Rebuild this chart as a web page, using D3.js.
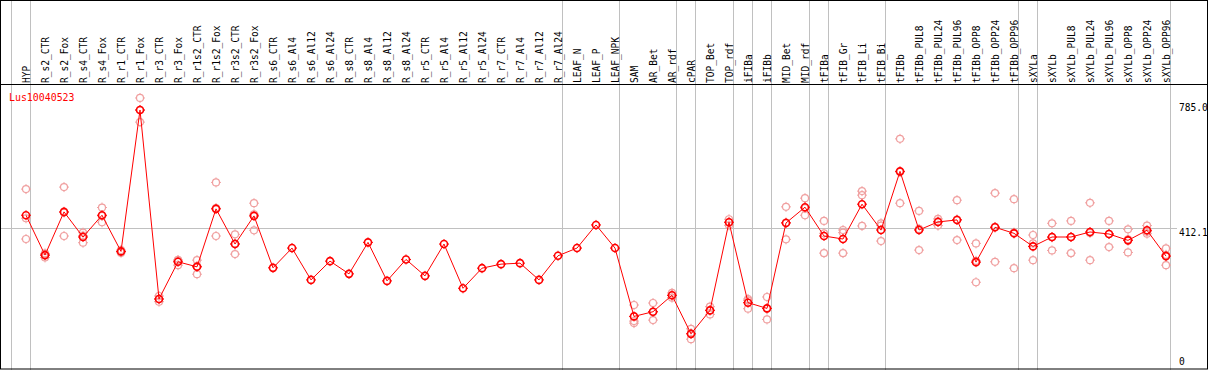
<!DOCTYPE html>
<html>
<head>
<meta charset="utf-8">
<script src="https://cdn.jsdelivr.net/npm/d3@7"></script>
<style>
  body { margin: 0; background: #fff; }
  svg { display: block; }
  text { font-family: "DejaVu Sans Mono", monospace; font-size: 11px; }
</style>
</head>
<body>
<div id="chart"></div>
<script>
var categories = ['HYP', 'R_s2_CTR', 'R_s2_Fox', 'R_s4_CTR', 'R_s4_Fox', 'R_r1_CTR', 'R_r1_Fox',
  'R_r3_CTR', 'R_r3_Fox', 'R_r1s2_CTR', 'R_r1s2_Fox', 'R_r3s2_CTR', 'R_r3s2_Fox',
  'R_s6_CTR', 'R_s6_Al4', 'R_s6_Al12', 'R_s6_Al24', 'R_s8_CTR', 'R_s8_Al4', 'R_s8_Al12', 'R_s8_Al24',
  'R_r5_CTR', 'R_r5_Al4', 'R_r5_Al12', 'R_r5_Al24', 'R_r7_CTR', 'R_r7_Al4', 'R_r7_Al12', 'R_r7_Al24',
  'LEAF_N', 'LEAF_P', 'LEAF_NPK', 'SAM', 'AR_Bet', 'AR_rdf', 'cPAR', 'TOP_Bet', 'TOP_rdf',
  'iFIBa', 'iFIBb', 'MID_Bet', 'MID_rdf', 'tFIBa', 'tFIB_Gr', 'tFIB_Li', 'tFIB_Bi', 'tFIBb',
  'tFIBb_PUL8', 'tFIBb_PUL24', 'tFIBb_PUL96', 'tFIBb_OPP8', 'tFIBb_OPP24', 'tFIBb_OPP96',
  'sXYLa', 'sXYLb', 'sXYLb_PUL8', 'sXYLb_PUL24', 'sXYLb_PUL96', 'sXYLb_OPP8', 'sXYLb_OPP24', 'sXYLb_OPP96'];

// mean expression per sample
var meanValues = [450, 331, 460, 385, 450, 342, 764,
  200, 311, 296, 469, 364, 448,
  293, 352, 257, 313, 275, 369, 254, 318,
  269, 364, 232, 292, 304, 307, 257, 329,
  352, 421, 352, 148, 162, 211, 96, 166, 429,
  189, 172, 427, 474, 388, 379, 483, 406, 581,
  406, 430, 436, 310, 414, 396,
  357, 385, 385, 400, 394, 375, 405, 328];

// individual replicates (empty where only the mean is shown)
var replicateValues = [
  [528, 441, 379], [336, 331, 324], [534, 458, 388], [398, 389, 368], [473, 448, 429], [346, 342, 338], [800, 764, 728],
  [209, 200, 192], [316, 316, 301], [316, 298, 274], [548, 471, 388], [393, 365, 334], [486, 453, 405],
  [], [], [], [], [], [], [], [],
  [], [], [], [], [], [], [], [],
  [], [], [], [182, 134, 128], [188, 161, 137], [218, 211, 204], [111, 97, 80], [177, 167, 154], [438, 429, 420],
  [200, 196, 171], [206, 171, 139], [475, 428, 378], [501, 471, 450], [433, 396, 337], [406, 398, 337], [522, 510, 418], [426, 419, 373], [678, 579, 486],
  [463, 409, 346], [439, 432, 419], [495, 437, 376], [366, 314, 250], [516, 415, 311], [498, 398, 292],
  [391, 366, 316], [426, 384, 345], [433, 385, 337], [487, 397, 316], [433, 394, 355], [408, 378, 339], [419, 401, 395], [351, 332, 301]];

// samples after which a separator line is drawn
var groupEnds = ['HYP', 'R_r7_Al24', 'LEAF_NPK', 'AR_rdf', 'cPAR', 'TOP_rdf', 'iFIBa', 'iFIBb',
  'MID_rdf', 'tFIBa', 'tFIB_Bi', 'tFIBb_OPP96', 'sXYLa', 'sXYLb_OPP96'];

var yTicks = [785.0, 412.1, 0];
var yTickLabels = ['785.0', '412.1', '0'];
var geneName = 'Lus10040523';

var width = 1209, height = 370;
var frame = { left: 0.5, top: 0.5, right: 1207.5, bottom: 369, header: 84.5 };

var svg = d3.select('#chart').append('svg')
  .attr('width', width)
  .attr('height', height);

svg.append('clipPath').attr('id', 'frameClip')
  .append('rect')
  .attr('x', 0).attr('y', 0)
  .attr('width', frame.right).attr('height', height);

var x = d3.scalePoint().domain(categories).range([26, 1166]);
var y = d3.scaleLinear().domain([0, 785]).range([366, 103]);
var step = x.step();

var g = svg.append('g').attr('clip-path', 'url(#frameClip)');

// vertical group separators
var sepX = [x(categories[0]) - step].concat(groupEnds.map(function (c) { return x(c); }));
g.selectAll('line.sep')
  .data(sepX)
  .enter().append('line')
  .attr('class', 'sep')
  .attr('x1', function (d) { return Math.round(d + 4) + 0.5; })
  .attr('x2', function (d) { return Math.round(d + 4) + 0.5; })
  .attr('y1', 0)
  .attr('y2', height)
  .attr('stroke', '#c0c0c0')
  .attr('stroke-width', 1);

// middle gridline
g.append('line')
  .attr('x1', 1).attr('x2', 1177)
  .attr('y1', Math.round(y(yTicks[1])) + 0.5)
  .attr('y2', Math.round(y(yTicks[1])) + 0.5)
  .attr('stroke', '#c0c0c0')
  .attr('stroke-width', 1);

// sample labels (rotated, squeezed a bit like the narrow bitmap font)
g.selectAll('text.cat')
  .data(categories)
  .enter().append('text')
  .attr('class', 'cat')
  .attr('transform', function (d) { return 'translate(' + (x(d) + 4) + ',83) rotate(-90) scale(0.87,1)'; })
  .attr('fill', '#000')
  .text(function (d) { return d; });

// y labels on the right
g.selectAll('text.ytick')
  .data(yTicks)
  .enter().append('text')
  .attr('class', 'ytick')
  .attr('transform', function (d, i) {
    var ty = i === yTicks.length - 1 ? y(d) - 1 : y(d) + 8;
    return 'translate(1179,' + ty + ') scale(0.87,1)';
  })
  .attr('fill', '#000')
  .text(function (d, i) { return yTickLabels[i]; });

g.append('text')
  .attr('transform', 'translate(9,101) scale(0.9,1)')
  .attr('fill', '#ff0000')
  .text(geneName);

function marker(sel, color, sw) {
  var r = 3.5;
  sel.append('circle')
    .attr('r', r)
    .attr('fill', 'none')
    .attr('stroke', color)
    .attr('stroke-width', sw);
  [[0, -1], [0, 1], [-1, 0], [1, 0]].forEach(function (o) {
    sel.append('line')
      .attr('x1', o[0] * r).attr('y1', o[1] * r)
      .attr('x2', o[0] * (r + 1.5)).attr('y2', o[1] * (r + 1.5))
      .attr('stroke', color)
      .attr('stroke-width', 1);
  });
}

// replicates
var reps = [];
replicateValues.forEach(function (arr, i) {
  arr.forEach(function (v) { reps.push({ c: categories[i], v: v }); });
});
g.selectAll('g.rep')
  .data(reps)
  .enter().append('g')
  .attr('class', 'rep')
  .attr('transform', function (d) { return 'translate(' + x(d.c) + ',' + y(d.v) + ')'; })
  .call(marker, '#f0a0a0', 1.2);

// mean line
var line = d3.line()
  .x(function (d, i) { return x(categories[i]); })
  .y(function (d) { return y(d); });

g.append('path')
  .datum(meanValues)
  .attr('d', line)
  .attr('fill', 'none')
  .attr('stroke', '#ff0000')
  .attr('stroke-width', 1);

g.selectAll('g.mean')
  .data(meanValues)
  .enter().append('g')
  .attr('class', 'mean')
  .attr('transform', function (d, i) { return 'translate(' + x(categories[i]) + ',' + y(d) + ')'; })
  .call(marker, '#ff0000', 1.6);

// frame
svg.append('rect')
  .attr('x', frame.left).attr('y', frame.top)
  .attr('width', frame.right - frame.left)
  .attr('height', frame.bottom - frame.top)
  .attr('fill', 'none')
  .attr('stroke', '#000')
  .attr('stroke-width', 1);

svg.append('line')
  .attr('x1', 0).attr('x2', frame.right)
  .attr('y1', frame.header).attr('y2', frame.header)
  .attr('stroke', '#000')
  .attr('stroke-width', 1);
</script>
</body>
</html>
